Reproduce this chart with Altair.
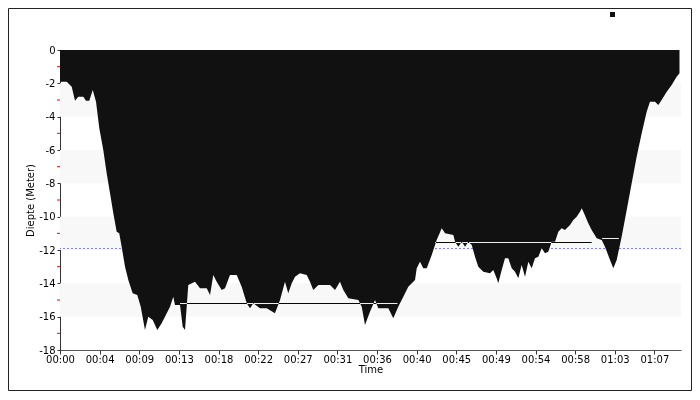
import altair as alt
import pandas as pd

# ---- data ----
times = [0, 0.76, 1.32, 1.69, 2.06, 2.63, 2.93, 3.30, 3.69, 4.06, 4.43, 4.88, 5.26, 5.64, 6.01,
         6.39, 6.68, 6.95, 7.33, 7.70, 8.19, 8.71, 9.10, 9.58, 9.95, 10.45, 10.97, 11.46, 12.03,
         12.40, 12.77, 12.96, 13.53, 13.83, 14.09, 14.46, 15.22, 15.78, 16.54, 16.91, 17.28,
         17.66, 18.23, 18.60, 19.16, 19.92, 20.48, 21.05, 21.42, 21.79, 22.54, 23.30, 24.23,
         24.80, 25.36, 25.73, 26.12, 26.49, 27.05, 27.81, 28.18, 28.55, 29.12, 30.44, 31.00,
         31.56, 31.94, 32.50, 33.63, 34.01, 34.38, 34.94, 35.51, 35.88, 37.01, 37.57, 38.13,
         38.70, 39.26, 40.02, 40.21, 40.58, 40.95, 41.34, 41.90, 42.46, 43.03, 43.40, 44.34,
         44.53, 44.90, 45.29, 45.66, 46.03, 46.41, 46.78, 47.15, 47.72, 48.47, 48.84, 49.22,
         49.40, 49.79, 50.16, 50.53, 50.92, 51.29, 51.66, 52.04, 52.42, 52.79, 53.17, 53.54,
         53.92, 54.30, 54.67, 55.04, 55.42, 55.80, 56.17, 56.55, 56.92, 57.49, 57.86, 58.24,
         58.62, 58.81, 59.07, 59.55, 59.93, 60.50, 61.06, 61.43, 62.00, 62.37, 62.75, 63.31,
         63.88, 64.44, 65.00, 65.57, 66.13, 66.50, 67.07, 67.44, 67.82, 68.39, 68.95, 69.51,
         69.83]
depths = [-1.9, -1.9, -2.2, -3.05, -2.8, -2.8, -3.05, -3.05, -2.4, -3.1, -4.7, -6.0, -7.4, -8.6,
          -9.8, -10.9, -11.0, -11.8, -13.0, -13.8, -14.6, -14.7, -15.4, -16.8, -16.0, -16.2,
          -16.8, -16.4, -15.8, -15.4, -14.8, -15.3, -15.3, -16.6, -16.8, -14.1, -13.9, -14.3,
          -14.3, -14.7, -13.5, -13.9, -14.4, -14.3, -13.5, -13.5, -14.2, -15.2, -15.5, -15.2,
          -15.5, -15.5, -15.8, -15.0, -13.9, -14.6, -14.0, -13.6, -13.4, -13.5, -13.9, -14.4,
          -14.1, -14.1, -14.4, -13.9, -14.4, -14.9, -15.0, -15.4, -16.5, -15.7, -15.0, -15.5,
          -15.5, -16.1, -15.4, -14.8, -14.2, -13.8, -13.1, -12.7, -13.1, -13.1, -12.3, -11.4,
          -10.7, -11.0, -11.1, -11.5, -11.8, -11.5, -11.8, -11.5, -11.7, -12.4, -13.0, -13.3,
          -13.4, -13.2, -13.7, -14.0, -13.2, -12.5, -12.5, -13.1, -13.3, -13.7, -12.9, -13.6,
          -12.7, -13.1, -12.5, -12.4, -11.9, -12.2, -12.1, -11.5, -11.5, -10.9, -10.7, -10.8,
          -10.5, -10.2, -10.0, -9.7, -9.5, -9.8, -10.4, -10.8, -11.3, -11.4, -11.8, -12.6,
          -13.1, -12.6, -11.2, -9.6, -8.0, -6.4, -5.0, -3.7, -3.1, -3.1, -3.3, -3.0, -2.5,
          -2.1, -1.6, -1.4]
assert len(times) == len(depths)

stop_start = [13.53, 42.27, 61.10]
stop_end = [38.04, 59.93, 63.00]
stop_depth = [-15.21, -11.55, -11.31]

ref_depth = [-11.91]

band_lo = [-4, -8, -12, -16]
band_hi = [-2, -6, -10, -14]

minor_ticks = [-17, -15, -13, -11, -9, -7, -5, -3, -1]
major_ticks = [-18, -16, -14, -12, -10, -8, -6, -4, -2, 0]

tick_minutes = [0, 4.467, 8.933, 13.4, 17.867, 22.333, 26.8, 31.267, 35.733, 40.2,
                44.667, 49.133, 53.6, 58.067, 62.533, 67.0]
tick_keys = [0, 4, 9, 13, 18, 22, 27, 31, 36, 40, 45, 49, 54, 58, 63, 67]
tick_labels = ["00:00", "00:04", "00:09", "00:13", "00:18", "00:22", "00:27", "00:31",
               "00:36", "00:40", "00:45", "00:49", "00:54", "00:58", "01:03", "01:07"]

# ---- layout ----
W, H = 621, 300
PL, PT, PR, PB = 52, 42, 11, 41
FONT = "DejaVu Sans"

label_expr = ("[" + ",".join("'%s'" % s for s in tick_labels) + "][indexof(["
              + ",".join(str(k) for k in tick_keys) + "], round(datum.value))]")

xscale = alt.Scale(domain=[0, 70], nice=False, zero=False)
yscale = alt.Scale(domain=[-18, 0], nice=False, zero=False)

xaxis = alt.Axis(values=tick_minutes, labelExpr=label_expr, title="Time", grid=False,
                 tickSize=4, tickColor="#333333", domainColor="#555555", labelPadding=0,
                 titlePadding=0, labelFont=FONT, titleFont=FONT, labelFontSize=10,
                 titleFontSize=10, titleFontWeight="normal", labelColor="#000000",
                 titleColor="#000000", labelFlush=False, labelOverlap=False)
yaxis = alt.Axis(values=major_ticks, labelExpr="'' + datum.value", title="Diepte (Meter)",
                 grid=False, tickSize=3, tickColor="#333333", domainColor="#333333",
                 labelPadding=2, titlePadding=3, labelFont=FONT, titleFont=FONT,
                 labelFontSize=10, titleFontSize=10, titleFontWeight="normal",
                 labelColor="#000000", titleColor="#000000", labelOverlap=False,
                 labelFlush=False, labelBound=False)

profile = pd.DataFrame({"t": times, "d": depths, "series": ["Diepte"] * len(times)})
bands = pd.DataFrame({"lo": band_lo, "hi": band_hi})
stops = pd.DataFrame({"s": stop_start, "e": stop_end, "d": stop_depth})
refl = pd.DataFrame({"d": ref_depth})
minor = pd.DataFrame({"d": minor_ticks})
one = pd.DataFrame({"k": [0]})

band_layer = alt.Chart(bands).mark_rect(color="#f8f8f8").encode(
    x=alt.value(0), x2=alt.value(W),
    y=alt.Y("lo:Q", scale=yscale, axis=yaxis, title="Diepte (Meter)"), y2="hi:Q")

ref_layer = alt.Chart(refl).mark_rule(color="#8080ff", strokeDash=[2, 2], strokeWidth=1).encode(
    y=alt.Y("d:Q", scale=yscale, axis=yaxis, title="Diepte (Meter)"))

area_layer = alt.Chart(profile).mark_area(opacity=1, interpolate="linear").encode(
    x=alt.X("t:Q", scale=xscale, axis=xaxis, title="Time"),
    y=alt.Y("d:Q", scale=yscale, axis=yaxis, title="Diepte (Meter)"),
    y2=alt.datum(0),
    color=alt.Color("series:N", scale=alt.Scale(range=["#111111"]),
                    legend=alt.Legend(orient="none", legendX=550, legendY=-38, title=None,
                                      symbolType="square", symbolSize=25, labelExpr="''",
                                      padding=0, symbolStrokeWidth=0, symbolOpacity=1,
                                      labelFontSize=5)))

stop_layer = alt.Chart(stops).mark_rule(color="#ffffff", strokeWidth=1, blend="difference").encode(
    x=alt.X("s:Q", scale=xscale, axis=xaxis, title="Time"), x2="e:Q",
    y=alt.Y("d:Q", scale=yscale, axis=yaxis, title="Diepte (Meter)"))

minor_layer = alt.Chart(minor).mark_rule(color="#ff0000", strokeWidth=1).encode(
    x=alt.value(-3), x2=alt.value(0),
    y=alt.Y("d:Q", scale=yscale, axis=yaxis, title="Diepte (Meter)"))

frame_layer = alt.Chart(one).mark_rect(filled=False, stroke="#222222", strokeWidth=1).encode(
    x=alt.value(-PL + 0.5), x2=alt.value(W + PR - 0.5),
    y=alt.value(-PT + 0.5), y2=alt.value(H + PB - 0.5))

chart = alt.layer(band_layer, ref_layer, area_layer, stop_layer, minor_layer, frame_layer).properties(
    width=W, height=H,
    autosize=alt.AutoSizeParams(type="none"),
    padding={"left": PL, "top": PT, "right": PR, "bottom": PB},
    background="#ffffff",
).configure_view(strokeWidth=0).configure_axis(labelOverlap=False)

chart.save("out.html", embed_options={"renderer": "svg", "actions": False})
